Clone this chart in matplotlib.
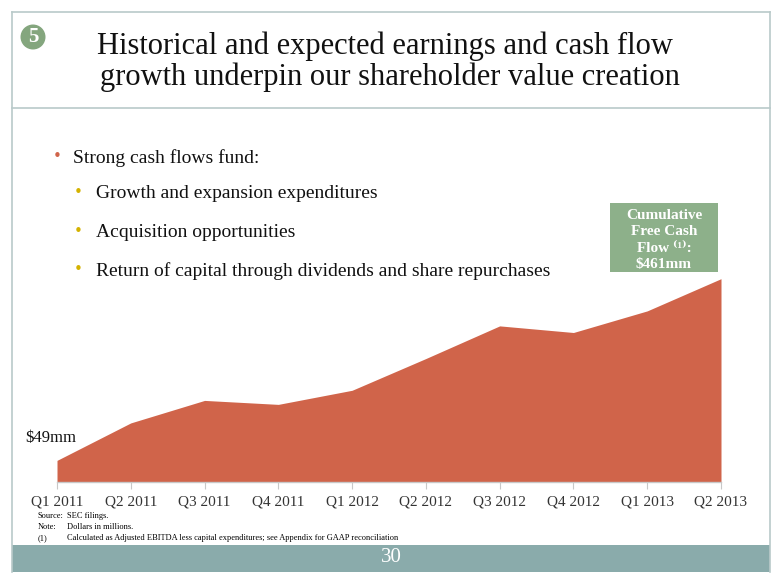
import matplotlib
matplotlib.use("Agg")
import matplotlib.pyplot as plt
from matplotlib.patches import Rectangle, Ellipse
from matplotlib.lines import Line2D

quarters = ["Q1 2011", "Q2 2011", "Q3 2011", "Q4 2011", "Q1 2012",
            "Q2 2012", "Q3 2012", "Q4 2012", "Q1 2013", "Q2 2013"]
cum_fcf = [49, 134, 185, 176, 208, 280, 354, 339, 388, 461]

title_lines = ["Historical and expected earnings and cash flow",
               "growth underpin our shareholder value creation"]
bullet_main = "Strong cash flows fund:"
bullet_subs = ["Growth and expansion expenditures",
               "Acquisition opportunities",
               "Return of capital through dividends and share repurchases"]
callout_lines = ["Cumulative", "Free Cash", "Flow \u207d\u00b9\u207e:", "$461mm"]
footnotes = [("Source:", "SEC filings."),
             ("Note:", "Dollars in millions."),
             ("(1)", "Calculated as Adjusted EBITDA less capital expenditures; see Appendix for GAAP reconciliation")]

W, H = 780, 585
SERIF = ["Liberation Serif", "DejaVu Serif"]
fig = plt.figure(figsize=(W / 100, H / 100), dpi=100)
fig.patch.set_facecolor("white")

def fx(x):
    return x / W

def fy(y):
    return 1 - y / H

frame_col = "#B9CACA"
for (x0, y0, x1, y1) in [(12, 12, 770, 12), (12, 12, 12, 572), (770, 12, 770, 572),
                         (12, 108, 770, 108)]:
    fig.add_artist(Line2D([fx(x0), fx(x1)], [fy(y0), fy(y1)], color=frame_col, lw=1.2,
                          transform=fig.transFigure))

# footer bar
fig.add_artist(Rectangle((fx(12), fy(572)), fx(770) - fx(12), fy(545) - fy(572),
                         transform=fig.transFigure, facecolor="#8AABAB", edgecolor="none"))
fig.text(fx(391), fy(558), "30", color="white", fontsize=15, ha="center", va="center",
         family=SERIF)

# badge
fig.add_artist(Ellipse((fx(33), fy(37)), 25 / W, 25 / H, transform=fig.transFigure,
                       facecolor="#84A67E", edgecolor="none"))
fig.text(fx(33), fy(37.5), "5", color="white", fontsize=15, fontweight="bold",
         ha="center", va="center", family=SERIF)

# title
fig.text(fx(385), fy(46), title_lines[0], fontsize=22, ha="center", va="center",
         family=SERIF, color="#111111")
fig.text(fx(390), fy(77), title_lines[1], fontsize=22, ha="center", va="center",
         family=SERIF, color="#111111")

# bullets
fig.text(fx(57), fy(157), "\u2022", color="#D0644A", fontsize=11, ha="center", va="center")
fig.text(fx(73), fy(158), bullet_main, fontsize=14, ha="left", va="center",
         family=SERIF, color="#111111")
for i, s in enumerate(bullet_subs):
    yy = 194 + i * 38.5
    fig.text(fx(78), fy(yy - 1), "\u2022", color="#D4B200", fontsize=11, ha="center", va="center")
    fig.text(fx(96), fy(yy), s, fontsize=14, ha="left", va="center",
             family=SERIF, color="#111111")

# chart
ax = fig.add_axes([fx(57), fy(482), fx(721) - fx(57), (482 - 261.5) / H])
x = list(range(len(quarters)))
ax.fill_between(x, 0, cum_fcf, color="#D0644A", lw=0)
ax.set_xlim(0, len(quarters) - 1)
ax.set_ylim(0, 500)
ax.set_facecolor("none")
for sp in ["top", "right", "left"]:
    ax.spines[sp].set_visible(False)
ax.spines["bottom"].set_color("#C8C8C8")
ax.spines["bottom"].set_linewidth(1)
ax.set_yticks([])
ax.set_xticks(x)
ax.set_xticklabels(quarters, family=SERIF, fontsize=11, color="#333333")
ax.tick_params(axis="x", length=5, color="#C8C8C8", pad=5)

fig.text(fx(25), fy(438), "$49mm", fontsize=12, family=SERIF, ha="left", va="center",
         color="#111111")

# callout box
fig.add_artist(Rectangle((fx(610), fy(272)), fx(718) - fx(610), fy(203) - fy(272),
                         transform=fig.transFigure, facecolor="#8DB08A", edgecolor="none"))
for i, ln in enumerate(callout_lines):
    fig.text(fx(664), fy(219 + i * 16.3), ln, color="white", fontsize=11,
             fontweight="bold", ha="center", va="baseline", family=SERIF)

# footnotes
for i, (a, b) in enumerate(footnotes):
    yy = 516 + i * 11
    fig.text(fx(38), fy(yy), a, fontsize=6, ha="left", va="center", family=SERIF)
    fig.text(fx(67), fy(yy), b, fontsize=6, ha="left", va="center", family=SERIF)

fig.savefig("out.png", dpi=100)
